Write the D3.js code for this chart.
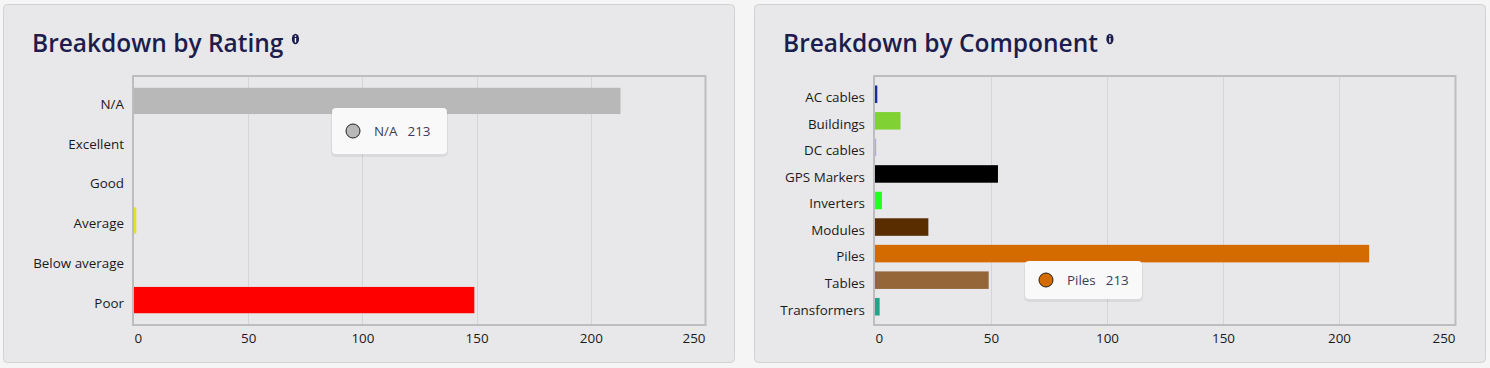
<!DOCTYPE html>
<html>
<head>
<meta charset="utf-8">
<script src="https://cdn.jsdelivr.net/npm/d3@7"></script>
<style>
  html, body { margin: 0; padding: 0; background: #f5f5f6; }
  svg { display: block; }
  text { font-family: "Open Sans", "Noto Sans", sans-serif; }
</style>
</head>
<body>
<svg id="chart" width="1490" height="368"></svg>
<script>
// ---- data ----
const ratingCategories = ["N/A", "Excellent", "Good", "Average", "Below average", "Poor"];
const ratingValues = [213, 0, 0, 1, 0, 149];
const ratingColors = ["#b8b8b8", "#2e8b57", "#7fd134", "#e6e020", "#ff9900", "#ff0000"];

const componentCategories = ["AC cables", "Buildings", "DC cables", "GPS Markers", "Inverters", "Modules", "Piles", "Tables", "Transformers"];
const componentValues = [1, 11, 0, 53, 3, 23, 213, 49, 2];
const componentColors = ["#1a2d9e", "#7fd134", "#b4aae6", "#000000", "#22ff22", "#5a2d00", "#d46b00", "#956638", "#1fa58a"];

const xTicks = [0, 50, 100, 150, 200, 250];

const svg = d3.select("#chart");

function panel(cfg) {
  const g = svg.append("g");
  // card
  g.append("rect")
    .attr("x", cfg.px + 0.5).attr("y", 4.5)
    .attr("width", cfg.pw).attr("height", 358)
    .attr("rx", 4)
    .attr("fill", "#e8e8ea").attr("stroke", "#d2d2d4");
  // title
  const t = g.append("text")
    .attr("x", cfg.px + 29).attr("y", 52)
    .attr("font-size", 24.5).attr("font-weight", 600)
    .attr("fill", "#1d1d4d")
    .text(cfg.title);
  const tw = t.node().getComputedTextLength();
  const ix = cfg.px + 29 + tw + 12;
  g.append("ellipse").attr("cx", ix).attr("cy", 39).attr("rx", 3.6).attr("ry", 5.2).attr("fill", "#1d1d4d");
  g.append("rect").attr("x", ix - 0.7).attr("y", 38).attr("width", 1.4).attr("height", 4.5).attr("fill", "#ffffff");
  g.append("rect").attr("x", ix - 0.7).attr("y", 35.5).attr("width", 1.4).attr("height", 1.3).attr("fill", "#ffffff");

  const x0 = cfg.left, x1 = cfg.right, yTop = 76, yBot = 325;
  const x = d3.scaleLinear().domain([0, 250]).range([x0, x1]);
  const y = d3.scaleBand().domain(cfg.cats).range([81, 320]).paddingInner(0.34).paddingOuter(0.17);

  // gridlines
  g.append("g").selectAll("line").data(xTicks.slice(1, -1)).join("line")
    .attr("x1", d => Math.round(x(d)) + 0.5).attr("x2", d => Math.round(x(d)) + 0.5)
    .attr("y1", yTop).attr("y2", yBot)
    .attr("stroke", "#d5d5d8").attr("stroke-width", 1);

  // bars
  g.append("g").selectAll("rect").data(cfg.vals).join("rect")
    .attr("x", x(0))
    .attr("y", (d, i) => y(cfg.cats[i]))
    .attr("width", d => d > 0 ? Math.max(x(d) - x(0), 1.5) : 0)
    .attr("height", y.bandwidth())
    .attr("fill", (d, i) => cfg.colors[i]);
  if (cfg.hairline) {
    cfg.hairline.forEach(name => {
      g.append("rect").attr("x", x(0)).attr("y", y(name)).attr("width", 1.2).attr("height", y.bandwidth())
        .attr("fill", cfg.colors[cfg.cats.indexOf(name)]);
    });
  }

  // box
  g.append("rect")
    .attr("x", x0 - 1).attr("y", yTop)
    .attr("width", x1 - x0 + 1.5).attr("height", yBot - yTop)
    .attr("fill", "none").attr("stroke", "#bdbdc0").attr("stroke-width", 2);

  // y labels
  const yAxis = d3.axisLeft(y).tickSize(0).tickPadding(10);
  const ya = g.append("g").attr("transform", `translate(${x0},3.5)`).call(yAxis);
  ya.select(".domain").remove();
  ya.selectAll("text").attr("font-size", 13.4).attr("fill", "#1a1a1a")
    .attr("font-family", "'Open Sans', 'Noto Sans', sans-serif");

  // x labels
  const xAxis = d3.axisBottom(x).tickValues(xTicks).tickSize(0).tickPadding(8);
  const xa = g.append("g").attr("transform", `translate(0,${yBot})`).call(xAxis);
  xa.select(".domain").remove();
  xa.selectAll("text").attr("font-size", 13.4).attr("fill", "#1a1a1a")
    .attr("font-family", "'Open Sans', 'Noto Sans', sans-serif")
    .attr("text-anchor", d => d === 0 ? "start" : (d === 250 ? "end" : "middle"));

  // tooltip
  const tip = cfg.tip;
  const tg = g.append("g");
  tg.append("rect")
    .attr("x", tip.x - 1).attr("y", tip.y + 1).attr("width", tip.w + 2).attr("height", tip.h + 2)
    .attr("rx", 5).attr("fill", "#000").attr("opacity", 0.06);
  tg.append("rect")
    .attr("x", tip.x).attr("y", tip.y).attr("width", tip.w).attr("height", tip.h)
    .attr("rx", 4).attr("fill", "#f9f9fa");
  const idx = cfg.cats.indexOf(tip.name);
  tg.append("circle").attr("cx", tip.x + 21).attr("cy", tip.y + tip.h / 2).attr("r", 7)
    .attr("fill", cfg.colors[idx]).attr("stroke", "#222").attr("stroke-width", 1);
  const nt = tg.append("text").attr("x", tip.x + 42).attr("y", tip.y + tip.h / 2 + 4.5)
    .attr("font-size", 13.4).attr("fill", "#3c3c5a")
    .text(tip.name);
  const nw = nt.node().getComputedTextLength();
  tg.append("text").attr("x", tip.x + 42 + nw + 10).attr("y", tip.y + tip.h / 2 + 4.5)
    .attr("font-size", 13.4).attr("fill", "#3c3c5a")
    .text(cfg.vals[idx]);
}

panel({
  px: 3, pw: 731, title: "Breakdown by Rating",
  left: 134, right: 705,
  cats: ratingCategories, vals: ratingValues, colors: ratingColors,
  tip: { name: "N/A", x: 332, y: 108, w: 115, h: 46 }
});

panel({
  px: 754, pw: 731, title: "Breakdown by Component",
  left: 875, right: 1455,
  cats: componentCategories, vals: componentValues, colors: componentColors,
  hairline: ["DC cables"],
  tip: { name: "Piles", x: 1025, y: 261, w: 117, h: 38 }
});
</script>
</body>
</html>
